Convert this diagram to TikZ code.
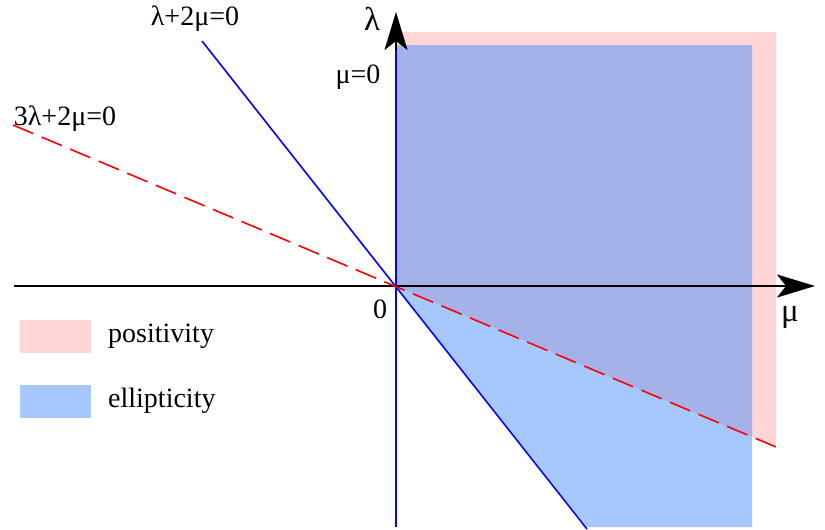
\documentclass[tikz,border=0pt]{standalone}
\usepackage{fontspec}
\setmainfont{Liberation Serif}
\usetikzlibrary{arrows.meta}
\definecolor{posfill}{RGB}{255,213,213}
\definecolor{ellfill}{RGB}{77,145,255}

\begin{document}
\begin{tikzpicture}[x=1pt,y=-1pt,
        axis/.style={black, line width=2.4pt, -{Stealth[length=38pt,width=23pt,inset=9pt]}},
        bline/.style={blue, line width=1.6pt},
        rline/.style={red, line width=1.6pt, dash pattern=on 22pt off 9pt},
        lab/.style={font=\fontsize{28}{32}\selectfont, inner sep=0pt},
        biglab/.style={font=\fontsize{33}{36}\selectfont, inner sep=0pt},
        key/.style={minimum width=71pt, minimum height=33pt, inner sep=0pt}]
            \useasboundingbox (0,0) rectangle (825,530);

            \coordinate (O) at (396,286);
            \coordinate (xs) at (14,286);
            \coordinate (xe) at (815,286);
            \coordinate (ys) at (396,527);
            \coordinate (ye) at (396,12);
            \coordinate (m1) at (396,50);
            \coordinate (b1) at (202,41);
            \coordinate (b2) at (587,529);
            \coordinate (r1) at (13,125);
            \coordinate (r2) at (776,447);

            % positivity
            \fill[posfill] (O) -- (396,32) -- (776,32) -- (r2) -- cycle;
            % ellipticity
            \fill[ellfill, fill opacity=0.5] (O) -- (396,45) -- (752,45) -- (752,527) -- (587,527) -- cycle;

            \draw[axis] (xs) -- (xe);
            \draw[axis] (ys) -- (ye);

            \draw[bline, line width=1.3pt] (ys) -- (m1);
            \draw[bline] (b1) -- (b2);
            \draw[rline] (r1) -- (r2);

            \path (372,30) node[biglab,anchor=base] (lam) {λ};
            \path (790,321) node[biglab,anchor=base] (mu) {μ};
            \path (380,318) node[lab,anchor=base] (zero) {0};
            \path (358,83) node[lab,anchor=base] (mu0) {μ=0};
            \path (195,25) node[lab,anchor=base] (l2m) {λ+2μ=0};
            \path (65,125) node[lab,anchor=base] (l3m) {3λ+2μ=0};

            \node[key, fill=posfill] (kpos) at (55.5,336.5) {};
            \path (108,342) node[lab,anchor=base west] (tpos) {positivity};
            \node[key, fill=ellfill, fill opacity=0.5] (kell) at (55.5,401.5) {};
            \path (108,407) node[lab,anchor=base west] (tell) {ellipticity};

        \end{tikzpicture}
\end{document}
